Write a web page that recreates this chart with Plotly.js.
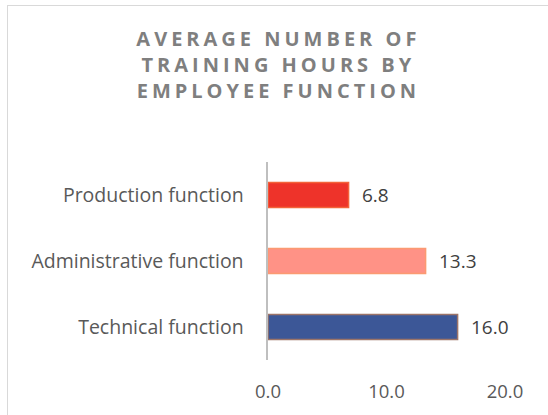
<!DOCTYPE html>
<html>
<head>
<meta charset="utf-8">
<script src="https://cdn.plot.ly/plotly-3.0.1.min.js"></script>
<style>
html, body { margin:0; padding:0; background:#ffffff; }
#wrap { position:relative; width:548px; height:415px; overflow:hidden; }
#frame { position:absolute; left:7px; top:5px; width:600px; height:500px; border-left:1px solid #d9d9d9; border-top:1px solid #d9d9d9; }
#chart { position:absolute; left:0; top:0; width:548px; height:415px; }
.gtitle { letter-spacing:4px; }
</style>
</head>
<body>
<div id="wrap">
  <div id="frame"></div>
  <div id="chart"></div>
</div>
<script>
const categories = ['Technical function', 'Administrative function', 'Production function'];
const hours = [16.0, 13.3, 6.8];
const barColors = ['#3c5797', '#ff9286', '#ee332a'];
const barEdges = ['#9c7468', '#fb9a72', '#f4633a'];
const xTicks = [0, 10, 20];
const xTickLabels = ['0.0', '10.0', '20.0'];
const titleText = 'AVERAGE NUMBER OF<br>TRAINING HOURS BY<br>EMPLOYEE FUNCTION';

const trace = {
  type: 'bar',
  orientation: 'h',
  y: categories,
  x: hours,
  marker: { color: barColors, line: { color: barEdges, width: 1.5 } },
  hoverinfo: 'none'
};

const annotations = hours.map((v, i) => ({
  x: v, y: categories[i], xref: 'x', yref: 'y',
  text: v.toFixed(1), showarrow: false, xanchor: 'left', xshift: 11,
  font: { family: 'Open Sans, sans-serif', size: 19, color: '#404040' }
}));

const layout = {
  width: 548, height: 415,
  margin: { l: 268, r: 43, t: 162, b: 55 },
  paper_bgcolor: 'rgba(0,0,0,0)',
  plot_bgcolor: 'rgba(0,0,0,0)',
  showlegend: false,
  bargap: 0.62,
  title: {
    text: titleText,
    x: 0.508, xanchor: 'center', xref: 'container',
    y: 0.888, yanchor: 'top', yref: 'container',
    font: { family: 'Open Sans, sans-serif', size: 20, color: '#7f7f7f', weight: 'bold' }
  },
  xaxis: {
    range: [0, 20],
    tickvals: xTicks, ticktext: xTickLabels,
    showgrid: false, zeroline: false, showline: false,
    ticks: '', ticklabelstandoff: 18,
    tickfont: { family: 'Open Sans, sans-serif', size: 18.5, color: '#595959' }
  },
  yaxis: {
    showgrid: false, zeroline: false,
    showline: true, linecolor: '#bfbfbf', linewidth: 2.5,
    ticks: '', ticklabelstandoff: 18,
    tickfont: { family: 'Open Sans, sans-serif', size: 19.5, color: '#595959' }
  },
  annotations: annotations
};

Plotly.newPlot('chart', [trace], layout, { staticPlot: true, displayModeBar: false });
</script>
</body>
</html>
